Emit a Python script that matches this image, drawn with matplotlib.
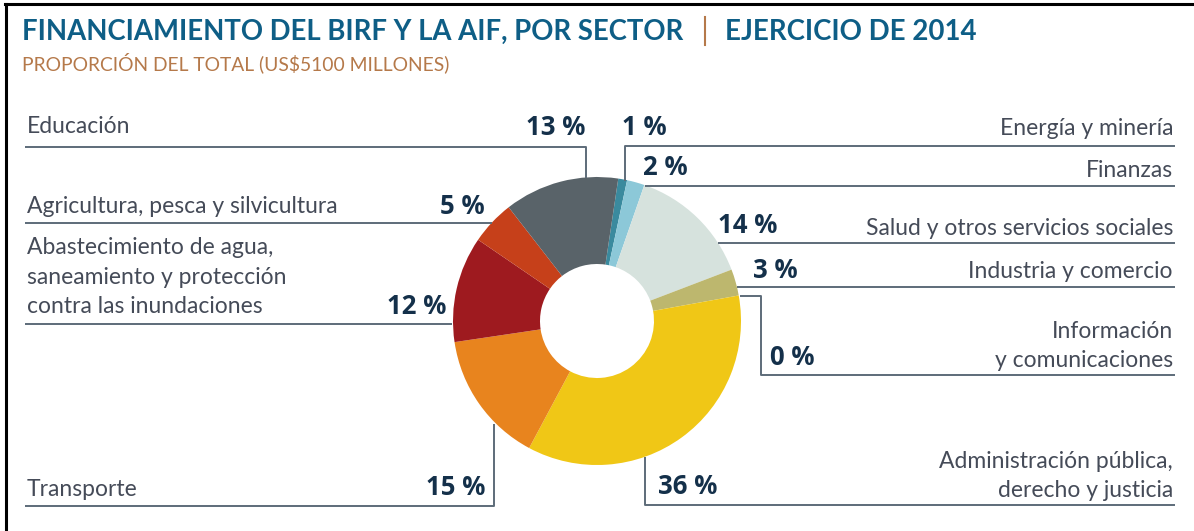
import matplotlib
matplotlib.use("Agg")
from matplotlib import pyplot as plt

# sectors, clockwise from the top of the ring
sectors = ["Energía y minería", "Finanzas", "Salud y otros servicios sociales",
           "Industria y comercio", "Información\ny comunicaciones",
           "Administración pública,\nderecho y justicia", "Transporte",
           "Abastecimiento de agua,\nsaneamiento y protección\ncontra las inundaciones",
           "Agricultura, pesca y silvicultura", "Educación"]
shares = [1, 2, 14, 3, 0, 36, 15, 12, 5, 13]
colors = ["#3a8a9e", "#8cc8d8", "#d6e2dd", "#bdb76e", "#9fb7c2",
          "#f0c716", "#e8841e", "#9e1a1f", "#c6401a", "#596369"]

title_a = "FINANCIAMIENTO DEL BIRF Y LA AIF, POR SECTOR"
title_b = "EJERCICIO DE 2014"
subtitle = "PROPORCIÓN DEL TOTAL (US$5100 MILLONES)"

W, H = 1194, 531
def Y(p):
    # picture rows run downwards, axes run upwards
    return H - p

# layout in picture pixels: (name x, name baseline, side, pct x, pct baseline, leader path)
layout = [
    (1173, 135, "r", 622, 135, [(1175, 146), (625, 146), (625, 181)]),
    (1173, 177, "r", 643, 175, [(1175, 186), (645, 186)]),
    (1173, 235, "r", 718, 233, [(1175, 243), (718, 243)]),
    (1173, 278, "r", 753, 278, [(1175, 287), (737, 287)]),
    (1173, 367, "r", 770, 365, [(1175, 375), (761, 375), (761, 296), (740, 296)]),
    (1173, 497, "r", 658, 494, [(1175, 505), (645, 505), (645, 457)]),
    (27, 496, "l", 485, 495, [(25, 506), (494, 506), (494, 424)]),
    (27, 313, "l", 446, 314, [(25, 324), (452, 324)]),
    (27, 213, "l", 485, 214, [(25, 223), (492, 223)]),
    (27, 133, "l", 585, 135, [(25, 147), (586, 147), (586, 178)]),
]

fig = plt.figure(figsize=(W / 100, H / 100), dpi=100)
ax = fig.add_axes([0, 0, 1, 1])

ax.pie(shares, colors=colors, startangle=81.5, counterclock=False,
       radius=144, center=(597, Y(321)),
       wedgeprops=dict(width=87, linewidth=0))

ax.set_xlim(0, W)
ax.set_ylim(0, H)
ax.set_aspect("equal", adjustable="box")
ax.axis("off")

line_col = "#5d6b79"
name_col = "#454b58"
pct_col = "#14304a"

for name, val, (nx, nb, side, px, pb, path) in zip(sectors, shares, layout):
    xs = [p[0] for p in path]
    ys = [Y(p[1]) for p in path]
    ax.plot(xs, ys, color=line_col, lw=1.4, solid_capstyle="butt")
    rows = name.split("\n")
    for i, row in enumerate(reversed(rows)):
        ax.text(nx, Y(nb - 29.5 * i), row, ha="right" if side == "r" else "left",
                va="baseline", fontsize=16.5, family="Lato", color=name_col)
    ax.text(px, Y(pb), f"{val} %", ha="left" if side == "r" else "right",
            va="baseline", fontsize=18.5, family="Open Sans", fontweight="bold",
            color=pct_col)

# titles
ax.text(22, Y(40), title_a, ha="left", va="baseline", fontsize=19.8,
        family="Lato", fontweight="bold", color="#0e5e86")
ax.plot([705, 705], [Y(17), Y(45)], color="#b5794a", lw=1.5)
ax.text(725, Y(40), title_b, ha="left", va="baseline", fontsize=19.9,
        family="Lato", fontweight="bold", color="#0e5e86")
ax.text(22, Y(70), subtitle, ha="left", va="baseline", fontsize=13.9,
        family="Lato", color="#b5794a")

# frame of the original panel
ax.plot([5, W], [Y(4), Y(4)], color="black", lw=2.2)
ax.plot([6, 6], [Y(4), 0], color="black", lw=2.2)

fig.savefig("out.png", dpi=100)
